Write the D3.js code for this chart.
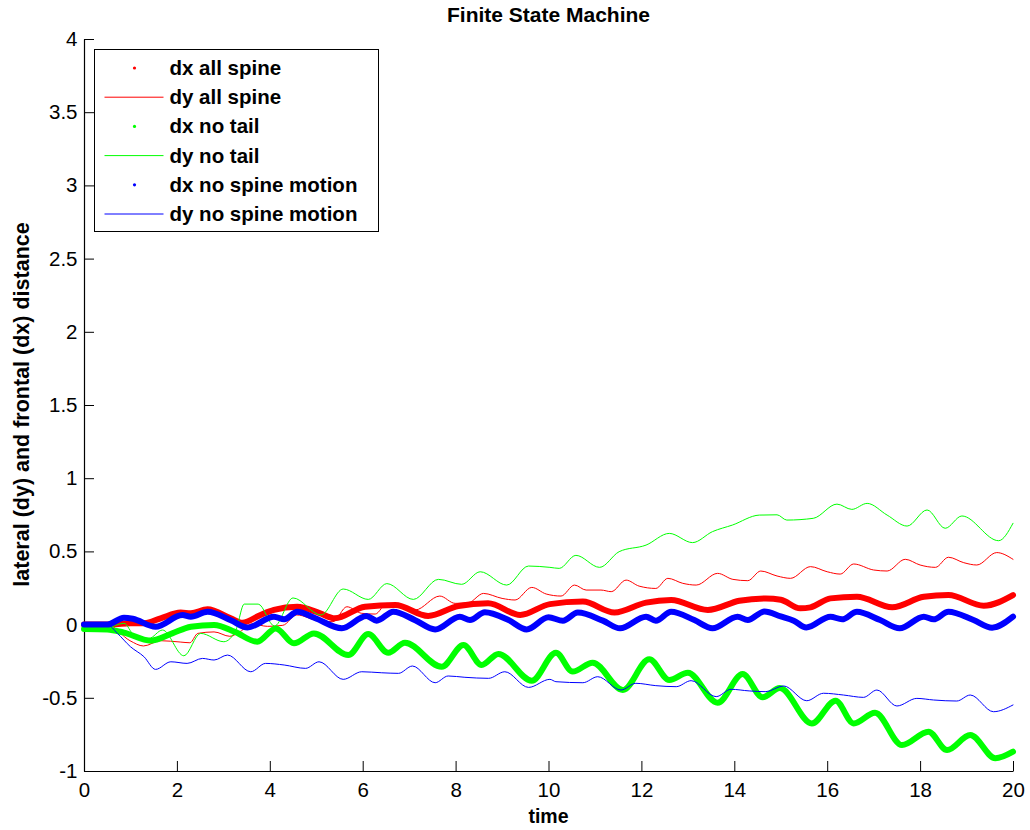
<!DOCTYPE html>
<meta charset="utf-8">
<script src="https://d3js.org/d3.v7.min.js"></script>
<style>
  body { margin: 0; background: #fff; }
  text { font-family: "Liberation Sans", Arial, sans-serif; }
  .axis text { font-size: 20.5px; fill: #000; }
  .axis path, .axis line { stroke: #000; }
</style>
<body>
<div id="my_dataviz"></div>
<script>

// x ticks / y ticks
var xTicks = [0, 2, 4, 6, 8, 10, 12, 14, 16, 18, 20];
var yTicks = [-1, -0.5, 0, 0.5, 1, 1.5, 2, 2.5, 3, 3.5, 4];

// dx all spine (red, thick)
var tDxAll = [0, 0.6, 1.0, 1.3, 1.65, 2.08, 2.3, 2.66, 3.16, 3.41, 3.8, 4.09, 4.59, 5.06, 5.4, 6.05, 6.7, 7.41, 8.06, 8.7, 9.39, 10.03, 10.74, 11.42, 12.1, 12.64, 13.43, 14.11, 14.68, 15.0, 15.42, 15.64, 16.07, 16.64, 17.4, 18.08, 18.61, 19.37, 20.0];
var vDxAll = [0, 0, 0.01, 0.01, 0.043, 0.082, 0.077, 0.104, 0.043, 0.013, 0.066, 0.1, 0.122, 0.08, 0.043, 0.122, 0.134, 0.059, 0.127, 0.145, 0.066, 0.14, 0.157, 0.082, 0.15, 0.168, 0.1, 0.163, 0.179, 0.17, 0.111, 0.118, 0.179, 0.19, 0.118, 0.19, 0.202, 0.129, 0.202];

// dy all spine (red, thin)
var tDyAll = [0, 0.5, 0.99, 1.28, 1.65, 2.07, 2.28, 2.45, 2.8, 3.14, 3.36, 3.62, 3.95, 4.28, 4.58, 5.06, 5.36, 5.66, 5.98, 6.27, 6.52, 6.84, 7.13, 7.66, 7.99, 8.28, 8.6, 9.0, 9.28, 9.64, 9.95, 10.27, 10.56, 10.81, 11.13, 11.35, 11.67, 11.95, 12.31, 12.57, 12.89, 13.18, 13.64, 13.97, 14.29, 14.57, 14.92, 15.21, 15.64, 16.0, 16.28, 16.57, 17.0, 17.29, 17.68, 18.0, 18.33, 18.61, 18.94, 19.22, 19.65, 20.0];
var vDyAll = [0, 0, -0.11, -0.146, -0.11, -0.119, -0.124, -0.06, -0.05, -0.08, -0.048, 0.005, -0.012, -0.005, 0.066, 0.025, 0.02, 0.122, 0.077, 0.072, 0.145, 0.122, 0.1, 0.195, 0.145, 0.15, 0.213, 0.179, 0.168, 0.254, 0.209, 0.195, 0.27, 0.236, 0.236, 0.225, 0.304, 0.263, 0.247, 0.316, 0.282, 0.27, 0.35, 0.309, 0.3, 0.366, 0.332, 0.316, 0.396, 0.361, 0.345, 0.414, 0.373, 0.366, 0.446, 0.407, 0.391, 0.46, 0.423, 0.407, 0.492, 0.446];

// dx no tail (green, thick)
var tDxTail = [0, 0.5, 0.86, 1.44, 1.9, 2.3, 2.8, 3.25, 3.73, 4.13, 4.52, 4.95, 5.69, 6.12, 6.55, 6.91, 7.7, 8.17, 8.56, 8.92, 9.64, 10.16, 10.52, 10.95, 11.6, 12.17, 12.6, 13.0, 13.64, 14.18, 14.61, 14.98, 15.67, 16.18, 16.57, 17.03, 17.61, 18.18, 18.58, 19.08, 19.62, 20.0];
var vDxTail = [-0.03, -0.033, -0.055, -0.11, -0.06, -0.015, -0.003, -0.05, -0.117, -0.026, -0.128, -0.06, -0.208, -0.065, -0.192, -0.124, -0.288, -0.14, -0.276, -0.2, -0.383, -0.192, -0.321, -0.26, -0.447, -0.237, -0.378, -0.329, -0.534, -0.338, -0.497, -0.433, -0.675, -0.52, -0.675, -0.602, -0.823, -0.732, -0.857, -0.754, -0.913, -0.868];

// dy no tail (green, thin)
var tDyTail = [0, 0.5, 0.86, 1.08, 1.4, 1.69, 2.15, 2.51, 3.01, 3.27, 3.45, 3.75, 4.1, 4.5, 5.1, 5.58, 6.12, 6.52, 7.09, 7.63, 8.13, 8.53, 9.1, 9.57, 10.03, 10.23, 10.59, 11.1, 11.52, 12.1, 12.6, 13.1, 13.53, 13.96, 14.54, 14.92, 15.13, 15.7, 16.21, 16.53, 16.86, 17.29, 17.72, 18.15, 18.54, 18.9, 19.69, 20.0];
var vDyTail = [-0.02, -0.02, 0.009, -0.072, -0.094, -0.037, -0.213, -0.06, -0.117, -0.037, 0.14, 0.14, -0.01, 0.182, 0.066, 0.243, 0.172, 0.28, 0.172, 0.309, 0.275, 0.361, 0.27, 0.4, 0.391, 0.384, 0.473, 0.391, 0.498, 0.543, 0.623, 0.56, 0.635, 0.68, 0.748, 0.75, 0.714, 0.726, 0.823, 0.787, 0.828, 0.748, 0.673, 0.783, 0.658, 0.742, 0.573, 0.692];

// dx no spine motion (blue, thick)
var tDxNone = [0, 0.5, 0.86, 1.05, 1.54, 2.12, 2.3, 2.66, 3.16, 3.52, 4.09, 4.31, 4.59, 4.97, 5.55, 6.08, 6.3, 6.66, 7.13, 7.56, 8.09, 8.31, 8.63, 9.14, 9.53, 10.0, 10.31, 10.63, 11.17, 11.54, 12.1, 12.31, 12.64, 13.14, 13.53, 14.07, 14.29, 14.65, 15.0, 15.28, 15.55, 16.07, 16.32, 16.64, 17.14, 17.56, 18.08, 18.29, 18.61, 19.15, 19.55, 20.0];
var vDxNone = [0, 0, 0.047, 0.04, -0.015, 0.065, 0.054, 0.088, 0.03, -0.02, 0.054, 0.036, 0.088, 0.045, -0.025, 0.059, 0.027, 0.088, 0.03, -0.033, 0.054, 0.031, 0.084, 0.031, -0.033, 0.05, 0.027, 0.082, 0.027, -0.025, 0.054, 0.027, 0.088, 0.031, -0.025, 0.054, 0.031, 0.09, 0.056, 0.027, -0.02, 0.054, 0.036, 0.088, 0.031, -0.025, 0.054, 0.036, 0.088, 0.031, -0.021, 0.054];

// dy no spine motion (blue, thin)
var tDyNone = [0, 0.5, 0.72, 1.0, 1.29, 1.54, 1.87, 2.22, 2.55, 2.8, 3.09, 3.59, 3.91, 4.31, 4.77, 5.06, 5.58, 5.98, 6.41, 6.77, 7.07, 7.56, 7.84, 8.2, 8.71, 9.06, 9.57, 10.03, 10.16, 10.74, 11.06, 11.56, 11.88, 12.31, 12.75, 13.07, 13.61, 13.93, 14.32, 14.68, 15.06, 15.56, 15.92, 16.35, 16.78, 17.07, 17.5, 17.93, 18.29, 18.79, 19.08, 19.58, 20.0];
var vDyNone = [0, 0, -0.06, -0.151, -0.219, -0.306, -0.254, -0.265, -0.231, -0.242, -0.208, -0.322, -0.265, -0.276, -0.299, -0.254, -0.374, -0.322, -0.329, -0.333, -0.283, -0.397, -0.351, -0.36, -0.367, -0.322, -0.429, -0.374, -0.39, -0.397, -0.356, -0.447, -0.401, -0.417, -0.424, -0.383, -0.492, -0.442, -0.453, -0.458, -0.419, -0.52, -0.469, -0.481, -0.497, -0.447, -0.556, -0.504, -0.515, -0.522, -0.481, -0.595, -0.549];

var labels = ["dx all spine", "dy all spine", "dx no tail", "dy no tail", "dx no spine motion", "dy no spine motion"];
var colors = ["#ff0000", "#ff0000", "#00ff00", "#00ff00", "#0000ff", "#0000ff"];

var series = [
  {t: tDxAll, v: vDxAll, thick: true},
  {t: tDyAll, v: vDyAll, thick: false},
  {t: tDxTail, v: vDxTail, thick: true},
  {t: tDyTail, v: vDyTail, thick: false},
  {t: tDxNone, v: vDxNone, thick: true},
  {t: tDyNone, v: vDyNone, thick: false}
];

var W = 1030, H = 830;
var plotLeft = 84, plotRight = 1013, plotTop = 39, plotBottom = 771;

var svg = d3.select("#my_dataviz")
  .append("svg")
  .attr("width", W)
  .attr("height", H);

svg.append("rect").attr("width", W).attr("height", H).attr("fill", "#fff");

var x = d3.scaleLinear().domain([0, 20]).range([plotLeft, plotRight]);
var y = d3.scaleLinear().domain([-1, 4]).range([plotBottom, plotTop]);

// axes (matlab style: ticks point inward, no box)
svg.append("g")
  .attr("class", "axis")
  .attr("transform", "translate(0," + plotBottom + ")")
  .call(d3.axisBottom(x).tickValues(xTicks).tickSizeInner(-10).tickSizeOuter(0).tickPadding(11.5)
    .tickFormat(function(d) { return String(d); }));

svg.append("g")
  .attr("class", "axis")
  .attr("transform", "translate(" + plotLeft + ",0)")
  .call(d3.axisLeft(y).tickValues(yTicks).tickSizeInner(-10).tickSizeOuter(0).tickPadding(6.5)
    .tickFormat(function(d) { return String(d); }));

svg.selectAll(".axis .domain").attr("stroke-width", 1.2);

var line = d3.line()
  .x(function(d) { return x(d[0]); })
  .y(function(d) { return y(d[1]); })
  .curve(d3.curveMonotoneX);

series.forEach(function(s, i) {
  var pts = s.t.map(function(t, k) { return [t, s.v[k]]; });
  svg.append("path")
    .datum(pts)
    .attr("d", line)
    .attr("fill", "none")
    .attr("stroke", colors[i])
    .attr("stroke-width", s.thick ? 6 : 1)
    .attr("stroke-linejoin", "round")
    .attr("stroke-linecap", "round");
});

// title and axis labels
svg.append("text")
  .attr("x", (plotLeft + plotRight) / 2)
  .attr("y", 22)
  .attr("text-anchor", "middle")
  .style("font-size", "21px")
  .style("font-weight", "bold")
  .text("Finite State Machine");

svg.append("text")
  .attr("x", (plotLeft + plotRight) / 2)
  .attr("y", 823)
  .attr("text-anchor", "middle")
  .style("font-size", "19.5px")
  .style("font-weight", "bold")
  .text("time");

svg.append("text")
  .attr("transform", "translate(29,404.5) rotate(-90)")
  .attr("text-anchor", "middle")
  .style("font-size", "21.5px")
  .style("font-weight", "bold")
  .text("lateral (dy) and frontal (dx) distance");

// legend
var legend = svg.append("g").attr("transform", "translate(94.5,49.5)");
legend.append("rect")
  .attr("width", 284)
  .attr("height", 182)
  .attr("fill", "#fff")
  .attr("stroke", "#000");

labels.forEach(function(lab, i) {
  var cy = 18.5 + i * 29.2;
  if (series[i].thick) {
    legend.append("circle").attr("cx", 40).attr("cy", cy).attr("r", 1.6).attr("fill", colors[i]);
  } else {
    legend.append("line").attr("x1", 10).attr("x2", 69).attr("y1", cy).attr("y2", cy)
      .attr("stroke", colors[i]).attr("stroke-width", 1);
  }
  legend.append("text")
    .attr("x", 75)
    .attr("y", cy + 7)
    .style("font-size", "20.5px")
    .style("font-weight", "bold")
    .text(lab);
});

</script>
</body>
